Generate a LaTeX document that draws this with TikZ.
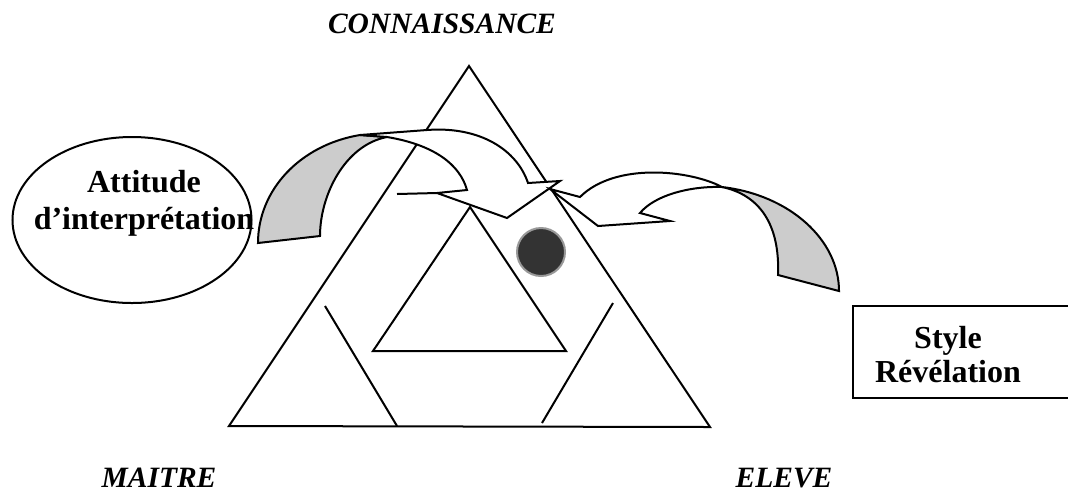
\documentclass[tikz,border=0pt]{standalone}
\usepackage{fontspec}
\setmainfont{Liberation Serif}
\usetikzlibrary{shapes.geometric}

\begin{document}
\begin{tikzpicture}[
    x=0.5pt, y=-0.5pt, line width=1pt,
    corner/.style={font=\fontsize{14.75}{17}\selectfont\bfseries\itshape, inner sep=0pt},
    bubble/.style={draw, ellipse, line width=1pt, minimum width=119.5pt, minimum height=83pt, inner sep=0pt},
    caption/.style={align=center, font=\fontsize{16}{#1}\selectfont\bfseries, inner sep=0pt},
    panel/.style={draw, line width=1pt, minimum width=113.5pt, minimum height=46pt, inner sep=0pt},
    band/.style={draw, fill=white, line width=1pt},
    twist/.style={draw, fill=black!20, line width=1pt},
    ball/.style={circle, fill=black!80, draw=black!40, line width=1pt, minimum size=24pt, inner sep=0pt},
]
\useasboundingbox (0,0) rectangle (1068,499);

% --- sommets ---
\node[corner] (know) at (442,24) {CONNAISSANCE};
\node[corner] (master) at (159,478) {MAITRE};
\node[corner] (pupil) at (784,478) {ELEVE};

% --- triangles ---
\draw (229,426) -- (469,66) -- (710,427) -- cycle;
\draw (373,351) -- (470,207) -- (566,351) -- cycle;
\draw (325,306) -- (397,426);
\draw (613,303) -- (542,423);
\node[ball] (dot) at (541,252) {};

% --- attitude (gauche) ---
\node[bubble] (att) at (132,220) {};
\node[caption=18.5pt] (atttxt) at (144,203) {Attitude\\d’interprétation};

% --- style (droite) ---
\node[panel] (rev) at (966.5,352) {};
\node[caption=17pt] (revtxt) at (948,355) {Style\\Révélation};

% --- fleche gauche ---
\draw[twist] (258,243) .. controls (258,190) and (300,145) .. (360,135) -- (387,137)
    .. controls (345,145) and (320,195) .. (320,236) -- cycle;
\draw[band] (360,135) -- (427,130) .. controls (480,126) and (517,150) .. (528,183)
    -- (560,181) -- (507,218) -- (437,193) -- (467,190)
    .. controls (460,165) and (435,145) .. (387,137) -- cycle;
\draw (397,194) -- (437,193);

% --- fleche droite ---
\draw[twist] (722,187) .. controls (790,195) and (839,240) .. (839,291) -- (778,275)
    .. controls (780,225) and (760,195) .. (722,187) -- cycle;
\draw[band] (722,187) .. controls (690,170) and (615,162) .. (580,197)
    -- (550,189) -- (598,226) -- (670,221) -- (640,213)
    .. controls (655,195) and (690,186) .. (722,187) -- cycle;

\end{tikzpicture}
\end{document}
